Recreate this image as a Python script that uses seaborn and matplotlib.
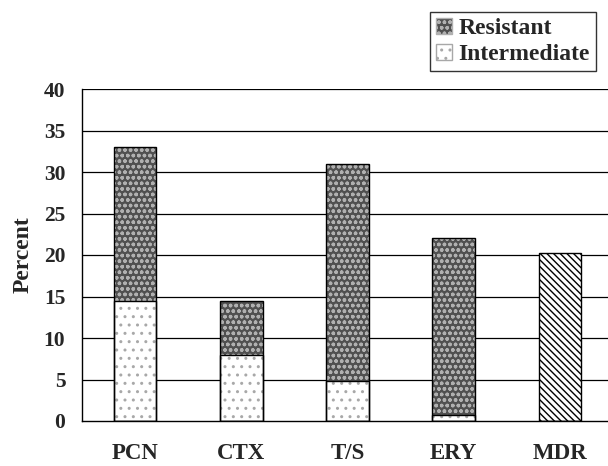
import matplotlib
matplotlib.use("Agg")
from matplotlib import pyplot as plt
from matplotlib.patches import Patch
import seaborn as sns
import numpy as np

drugs = ["PCN", "CTX", "T/S", "ERY", "MDR"]
intermediate = [14.5, 8.0, 4.8, 0.7, 0.0]
resistant = [18.5, 6.5, 26.2, 21.3, 0.0]
mdr = [0.0, 0.0, 0.0, 0.0, 20.3]
yticks = [0, 5, 10, 15, 20, 25, 30, 35, 40]

totals = list(np.array(intermediate) + np.array(resistant))

sns.set_style("white")
plt.rcParams['font.family'] = ['Liberation Serif', 'DejaVu Serif']
plt.rcParams['font.weight'] = 'bold'

fig = plt.figure(figsize=(6.08, 4.66), dpi=100)
ax = fig.add_axes([82/608, 45/466, 531/608, 332/466])

for y in yticks[1:]:
    ax.axhline(y, color='black', lw=0.9, zorder=0)

# resistant (full stack height, intermediate drawn over it)
sns.barplot(x=drugs, y=totals, ax=ax, width=0.4, color='#505050',
            edgecolor='#b0b0b0', linewidth=0, hatch='ooo', zorder=2)
# intermediate
sns.barplot(x=drugs, y=intermediate, ax=ax, width=0.4, color='white',
            edgecolor='#a8a8a8', linewidth=0, hatch='..', zorder=3)
# MDR
sns.barplot(x=drugs, y=mdr, ax=ax, width=0.4, color='white',
            edgecolor='black', linewidth=0, hatch='\\\\\\\\\\', zorder=3)
# outlines
sns.barplot(x=drugs, y=totals, ax=ax, width=0.4, fill=False,
            edgecolor='black', linewidth=1.0, zorder=4)
sns.barplot(x=drugs, y=intermediate, ax=ax, width=0.4, fill=False,
            edgecolor='black', linewidth=1.0, zorder=4)
sns.barplot(x=drugs, y=mdr, ax=ax, width=0.4, fill=False,
            edgecolor='black', linewidth=1.0, zorder=4)

ax.set_xlim(-0.5, 4.5)
ax.set_ylim(0, 40)
ax.set_yticks(yticks)
ax.set_yticklabels([str(v) for v in yticks], fontsize=15.5, fontweight='bold')
ax.set_xticks(range(len(drugs)))
ax.set_xticklabels(drugs, fontsize=16.5, fontweight='bold')
ax.set_xticks([0.5, 1.5, 2.5, 3.5], minor=True)
ax.tick_params(axis='x', which='major', length=0, pad=16)
ax.tick_params(axis='x', which='minor', length=6, width=1, direction='out', color='black')
ax.tick_params(axis='y', length=7, width=1, direction='out', color='black', pad=5)
ax.set_ylabel("Percent", fontsize=17, fontweight='bold', labelpad=7)
ax.set_xlabel("")

for side in ['top', 'right']:
    ax.spines[side].set_visible(False)
for side in ['left', 'bottom']:
    ax.spines[side].set_color('black')
    ax.spines[side].set_linewidth(1.0)

handles = [
    Patch(facecolor='#505050', edgecolor='#b0b0b0', hatch='ooo', label='Resistant'),
    Patch(facecolor='white', edgecolor='#a8a8a8', hatch='..', label='Intermediate'),
]
leg = fig.legend(handles=handles, loc='upper right', bbox_to_anchor=(596/608, 1 - 12/466),
                 frameon=True, fancybox=False, edgecolor='black', fontsize=17,
                 handlelength=0.65, handleheight=0.65, handletextpad=0.3,
                 borderpad=0.25, labelspacing=0.2, borderaxespad=0)
leg.get_frame().set_linewidth(1.0)
for t in leg.get_texts():
    t.set_fontweight('bold')

fig.savefig("out.png", dpi=100)
